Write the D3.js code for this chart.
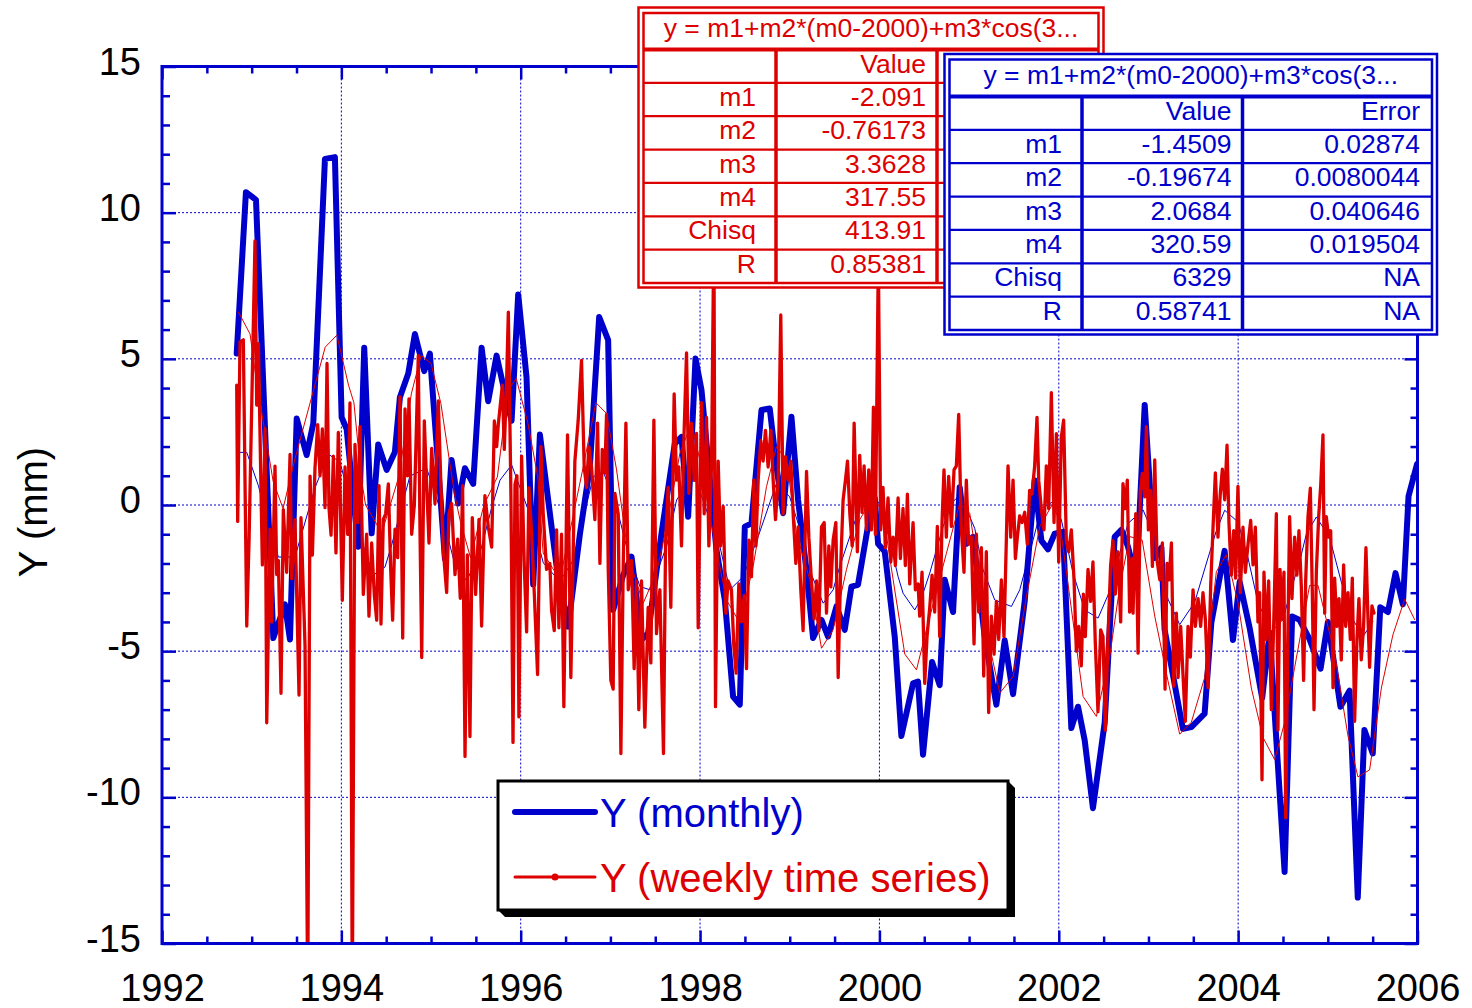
<!DOCTYPE html>
<html>
<head>
<meta charset="utf-8">
<script src="https://cdn.jsdelivr.net/npm/d3@7"></script>
<style>
  body { margin: 0; background: #fff; }
  svg { display: block; font-family: "Liberation Sans", Arial, sans-serif; }
</style>
</head>
<body>
<svg id="chart" width="1472" height="1008"></svg>
<script>
// Y displacement: monthly solution vs weekly time series, with the two harmonic fits.

const xTicks = [1992, 1994, 1996, 1998, 2000, 2002, 2004, 2006];
const yTicks = [-15, -10, -5, 0, 5, 10, 15];

// thick blue: monthly solution [year, mm]
const monthly = [
  [1992.833, 5.18], [1992.936, 10.70], [1993.048, 10.44], [1993.241, -4.55], [1993.371, -3.4],
  [1993.427, -4.6], [1993.502, 2.96], [1993.613, 1.71], [1993.687, 2.79], [1993.817, 11.84],
  [1993.928, 11.9], [1994.003, 3.0], [1994.059, 2.6], [1994.188, -1.43], [1994.255, 5.38],
  [1994.338, -0.97], [1994.411, 2.07], [1994.505, 1.2], [1994.597, 1.81], [1994.653, 3.69],
  [1994.746, 4.5], [1994.820, 5.85], [1994.924, 4.58], [1994.987, 5.18], [1995.155, -1.84],
  [1995.229, 1.54], [1995.303, 0.05], [1995.378, 1.26], [1995.470, 0.72], [1995.564, 5.38],
  [1995.637, 3.55], [1995.731, 5.11], [1995.804, 4.1], [1995.898, 2.88], [1995.972, 7.2],
  [1996.065, 4.37], [1996.139, -2.72], [1996.214, 2.41], [1996.400, -2.1], [1996.529, -4.16],
  [1996.660, -1.0], [1996.771, 1.3], [1996.875, 6.43], [1996.975, 5.64], [1997.031, -3.59],
  [1997.142, -2.4], [1997.236, -1.77], [1997.347, -4.61], [1997.421, -4.38], [1997.570, -0.97],
  [1997.718, 2.1], [1997.793, 2.33], [1997.867, -0.4], [1997.949, 5.01], [1998.016, 3.93],
  [1998.183, -1.54], [1998.276, -3.25], [1998.368, -6.55], [1998.443, -6.83], [1998.499, -0.74],
  [1998.573, -0.63], [1998.685, 3.25], [1998.777, 3.3], [1998.852, 1.31], [1998.926, -0.28],
  [1999.019, 3.02], [1999.093, 0.17], [1999.186, -2.22], [1999.260, -4.55], [1999.354, -3.93],
  [1999.427, -4.5], [1999.521, -3.47], [1999.613, -4.27], [1999.688, -2.79], [1999.761, -2.73],
  [1999.892, -0.37], [1999.948, 0.24], [1999.985, -1.33], [2000.059, -1.59], [2000.171, -4.51],
  [2000.245, -7.9], [2000.375, -6.1], [2000.430, -6.04], [2000.486, -8.54], [2000.587, -5.37],
  [2000.672, -6.16], [2000.728, -2.56], [2000.821, -3.66], [2000.895, 0.61], [2000.970, -1.33],
  [2001.044, -1.09], [2001.174, -4.51], [2001.304, -6.83], [2001.397, -4.63], [2001.490, -6.47],
  [2001.620, -3.29], [2001.731, 0.85], [2001.806, -1.22], [2001.880, -1.52], [2001.954, -0.98],
  [2002.047, -0.92], [2002.140, -7.63], [2002.214, -6.9], [2002.289, -8.05], [2002.381, -10.37],
  [2002.512, -7.44], [2002.623, -1.09], [2002.698, -0.85], [2002.771, -1.42], [2002.865, -2.56],
  [2002.958, 3.42], [2003.013, 0.76], [2003.069, -1.81], [2003.144, -1.46], [2003.180, -4.27],
  [2003.384, -7.66], [2003.478, -7.6], [2003.626, -7.14], [2003.701, -4.03], [2003.849, -1.57],
  [2003.942, -4.62], [2004.017, -2.63], [2004.128, -4.2], [2004.268, -6.6], [2004.351, -4.37],
  [2004.518, -12.55], [2004.602, -3.81], [2004.685, -3.93], [2004.797, -4.6], [2004.919, -5.6],
  [2005.001, -4.0], [2005.141, -6.9], [2005.242, -6.35], [2005.334, -13.43], [2005.408, -7.7],
  [2005.501, -8.5], [2005.585, -3.5], [2005.670, -3.66], [2005.755, -2.33], [2005.837, -3.4],
  [2005.900, 0.3], [2005.995, 1.4]
];

// thick red: weekly time series [year, mm]
const weekly = [
  [1992.833, 4.10], [1992.844, -0.56], [1992.870, 5.58], [1992.907, 5.65], [1992.945, -4.14],
  [1992.971, -1.17], [1993.037, 9.03], [1993.056, 3.42], [1993.075, 5.52], [1993.119, -2.05],
  [1993.149, 2.61], [1993.168, -7.45], [1993.205, -0.83], [1993.223, -4.0], [1993.260, 1.33],
  [1993.279, -2.38], [1993.298, -1.9], [1993.327, -6.44], [1993.353, -0.16], [1993.390, -2.3],
  [1993.428, 1.73], [1993.446, -2.52], [1993.483, -0.5], [1993.528, -6.5], [1993.550, -0.43],
  [1993.595, -4.82], [1993.625, -17], [1993.651, 0.99], [1993.677, -1.71], [1993.706, 1.26],
  [1993.736, 2.75], [1993.762, 1.0], [1993.788, 2.6], [1993.818, -0.09], [1993.840, 4.84],
  [1993.862, -0.09], [1993.885, -1.03], [1993.911, 1.67], [1993.940, -1.64], [1993.966, 2.48],
  [1993.985, 0.6], [1994.011, -3.26], [1994.041, 1.3], [1994.070, -1.0], [1994.096, 3.49],
  [1994.122, -17], [1994.152, 2.07], [1994.182, -0.6], [1994.208, 2.68], [1994.245, -3.06],
  [1994.282, -1.0], [1994.308, -3.8], [1994.338, -1.3], [1994.368, -3.1], [1994.394, -3.94],
  [1994.420, 0.66], [1994.442, -4.07], [1994.468, -0.49], [1994.494, -0.3], [1994.524, 0.72],
  [1994.550, -2.2], [1994.572, -3.94], [1994.598, -0.83], [1994.628, -1.8], [1994.654, 3.7],
  [1994.684, -4.55], [1994.710, 3.29], [1994.736, 1.0], [1994.754, 3.63], [1994.784, -1.0],
  [1994.814, 0.0], [1994.840, 3.0], [1994.858, 5.11], [1994.877, -0.9], [1994.896, -5.22],
  [1994.925, 2.88], [1994.951, 0.72], [1994.977, -1.3], [1995.007, 1.94], [1995.044, 0.05],
  [1995.081, 3.56], [1995.111, 0.59], [1995.137, -1.57], [1995.174, -2.99], [1995.200, -0.3],
  [1995.230, 0.05], [1995.267, -2.38], [1995.297, -1.17], [1995.326, -3.19], [1995.352, 0.66],
  [1995.379, -8.6], [1995.405, -1.71], [1995.434, -7.92], [1995.460, -0.43], [1995.497, -3.06],
  [1995.535, -0.49], [1995.564, -4.14], [1995.601, 0.32], [1995.639, -0.76], [1995.676, -1.44],
  [1995.706, 2.88], [1995.732, 2.0], [1995.750, 2.75], [1995.795, 4.1], [1995.817, 1.9],
  [1995.843, 4.3], [1995.862, 6.6], [1995.891, 0.3], [1995.914, -8.12], [1995.936, 0.7],
  [1995.958, 1.0], [1995.980, -7.25], [1996.010, 1.67], [1996.040, -2.11], [1996.066, -4.34],
  [1996.092, 0.59], [1996.122, -1.0], [1996.151, -3.0], [1996.188, -5.8], [1996.225, 2.0],
  [1996.251, -0.3], [1996.288, -2.2], [1996.325, -2.0], [1996.344, -3.6], [1996.374, -4.3],
  [1996.400, -0.85], [1996.426, -4.2], [1996.455, -1.0], [1996.481, -6.9], [1996.500, -2.6],
  [1996.522, 2.4], [1996.559, -5.9], [1996.604, 1.5], [1996.641, 2.9], [1996.678, 4.95],
  [1996.708, 1.3], [1996.734, 0.6], [1996.760, 2.0], [1996.790, 1.3], [1996.827, -0.5],
  [1996.857, 2.8], [1996.883, -2.0], [1996.909, 1.9], [1996.938, 1.1], [1996.957, 3.1],
  [1996.976, -2.2], [1997.005, -6.0], [1997.031, -6.3], [1997.050, 0.4], [1997.087, -0.3],
  [1997.117, -8.5], [1997.143, -2.1], [1997.173, 2.8], [1997.199, -2.9], [1997.236, -1.9],
  [1997.265, -5.6], [1997.291, -2.6], [1997.317, -7.0], [1997.347, -2.6], [1997.384, -7.6],
  [1997.421, -3.5], [1997.451, -5.4], [1997.485, 2.9], [1997.514, -4.4], [1997.552, -2.9],
  [1997.592, -8.5], [1997.615, -1.3], [1997.644, 0.6], [1997.674, -3.5], [1997.711, 3.8],
  [1997.737, 0.85], [1997.763, 1.3], [1997.793, -1.4], [1997.819, 2.2], [1997.849, 5.2],
  [1997.875, 0.4], [1997.904, 2.8], [1997.934, 0.85], [1997.960, 2.45], [1997.979, -4.2],
  [1998.016, 3.5], [1998.046, -0.3], [1998.072, 3.0], [1998.098, -1.4], [1998.128, 1.4],
  [1998.154, 9.5], [1998.172, -6.9], [1998.202, 1.5], [1998.228, -1.4], [1998.258, -0.05],
  [1998.287, -3.7], [1998.313, -2.6], [1998.350, -2.9], [1998.376, -4.8], [1998.402, -5.75],
  [1998.432, -2.7], [1998.462, -4.0], [1998.492, -3.1], [1998.518, -5.6], [1998.544, -1.2],
  [1998.573, -2.45], [1998.599, 0.85], [1998.622, -1.4], [1998.648, 0.85], [1998.677, 2.2],
  [1998.703, 1.5], [1998.729, 2.55], [1998.759, 1.3], [1998.789, 2.55], [1998.815, 0.85],
  [1998.841, -0.5], [1998.871, 0.85], [1998.900, 6.5], [1998.926, -0.3], [1998.952, 1.65],
  [1998.982, 0.85], [1999.012, 1.5], [1999.038, -0.3], [1999.068, -2.0], [1999.094, -0.75],
  [1999.123, -2.9], [1999.149, -4.3], [1999.187, 1.15], [1999.213, -1.1], [1999.242, -2.6],
  [1999.272, -3.9], [1999.298, -2.6], [1999.324, -4.3], [1999.354, -0.75], [1999.384, -0.6],
  [1999.410, -3.7], [1999.436, -1.4], [1999.458, -2.8], [1999.484, -1.2], [1999.514, -0.6],
  [1999.540, -5.9], [1999.569, -2.0], [1999.595, 0.17], [1999.621, 0.85], [1999.644, 1.5],
  [1999.670, -0.3], [1999.696, -1.4], [1999.718, 2.8], [1999.754, -1.6], [1999.780, 1.7],
  [1999.806, -0.25], [1999.829, 1.34], [1999.855, -0.85], [1999.881, 1.2], [1999.910, -0.85],
  [1999.933, 3.35], [1999.955, -1.0], [1999.988, 8.5], [2000.014, -0.85], [2000.040, 0.6],
  [2000.066, -1.46], [2000.096, 0.24], [2000.126, -1.95], [2000.152, -1.1], [2000.178, -2.07],
  [2000.208, 0.24], [2000.234, -1.83], [2000.263, -0.12], [2000.289, -2.07], [2000.312, 0.37],
  [2000.338, -2.7], [2000.375, -0.6], [2000.401, -2.9], [2000.431, -2.7], [2000.449, -3.8],
  [2000.475, -2.3], [2000.505, -6.1], [2000.531, -4.5], [2000.561, -3.5], [2000.587, -2.4],
  [2000.616, -3.66], [2000.646, -0.73], [2000.672, -4.5], [2000.698, -0.6], [2000.720, 1.2],
  [2000.746, -1.1], [2000.772, 0.98], [2000.802, -0.73], [2000.832, 1.2], [2000.858, 1.34],
  [2000.884, 3.1], [2000.914, -0.85], [2000.943, -2.3], [2000.969, 0.85], [2000.995, -1.34],
  [2001.025, -1.1], [2001.055, -4.75], [2001.081, -1.0], [2001.107, -3.66], [2001.137, -1.46],
  [2001.163, -5.85], [2001.192, -1.6], [2001.218, -7.1], [2001.248, -3.8], [2001.278, -5.1],
  [2001.304, -3.3], [2001.330, -4.6], [2001.360, -2.56], [2001.389, -4.5], [2001.415, -1.22],
  [2001.434, 1.34], [2001.464, -1.1], [2001.490, 0.85], [2001.516, -1.83], [2001.538, -1.1],
  [2001.564, -0.37], [2001.590, -0.6], [2001.620, -0.25], [2001.649, -1.34], [2001.675, 0.5],
  [2001.701, 0.37], [2001.731, 1.34], [2001.757, 3.0], [2001.776, 0.85], [2001.805, -0.12],
  [2001.835, -0.85], [2001.861, 1.34], [2001.887, -0.12], [2001.917, 3.84], [2001.947, -0.6],
  [2001.973, 2.44], [2001.999, -1.95], [2002.028, 2.3], [2002.054, 2.9], [2002.084, -1.22],
  [2002.110, -1.6], [2002.140, -0.85], [2002.170, -2.56], [2002.196, -5.0], [2002.222, -4.15],
  [2002.251, -5.5], [2002.274, -3.05], [2002.296, -4.5], [2002.326, -2.2], [2002.355, -3.3],
  [2002.381, -1.95], [2002.407, -4.7], [2002.437, -7.07], [2002.467, -4.27], [2002.493, -4.5],
  [2002.519, -7.7], [2002.549, -4.5], [2002.578, -2.07], [2002.604, -1.22], [2002.630, -3.05],
  [2002.660, -1.6], [2002.690, -4.0], [2002.716, 0.73], [2002.742, -0.12], [2002.764, 0.85],
  [2002.790, -3.66], [2002.816, -1.83], [2002.828, -3.7], [2002.858, -0.3], [2002.884, -5.07],
  [2002.910, 0.5], [2002.932, 1.08], [2002.958, 0.28], [2002.977, 2.68], [2002.999, -0.85],
  [2003.021, 0.5], [2003.044, -2.1], [2003.070, 1.54], [2003.096, -1.9], [2003.126, -2.56],
  [2003.155, -1.3], [2003.185, -6.3], [2003.207, -2.0], [2003.230, -2.56], [2003.256, -1.3],
  [2003.282, -6.2], [2003.311, -3.7], [2003.330, -5.9], [2003.359, -4.15], [2003.385, -5.8],
  [2003.411, -7.4], [2003.441, -4.15], [2003.467, -5.2], [2003.497, -2.9], [2003.523, -4.15],
  [2003.553, -3.2], [2003.582, -4.15], [2003.608, -3.0], [2003.634, -3.9], [2003.664, -6.25],
  [2003.694, -2.75], [2003.720, -0.76], [2003.746, 1.1], [2003.775, -1.1], [2003.801, 0.4],
  [2003.824, 1.23], [2003.850, 0.18], [2003.876, 2.05], [2003.898, -0.64], [2003.924, -2.4],
  [2003.950, -0.88], [2003.972, -2.5], [2003.998, 0.64], [2004.024, -3.0], [2004.054, -0.76],
  [2004.080, -2.3], [2004.110, -1.35], [2004.140, -0.53], [2004.166, -2.05], [2004.192, -0.76],
  [2004.221, -4.0], [2004.240, -3.0], [2004.266, -9.4], [2004.288, -2.3], [2004.314, -4.6],
  [2004.340, -2.6], [2004.370, -7.0], [2004.396, -4.15], [2004.426, -0.3], [2004.444, -7.7],
  [2004.467, -2.2], [2004.489, -3.9], [2004.511, -2.3], [2004.530, -10.7], [2004.556, -4.15],
  [2004.574, -0.4], [2004.600, -3.2], [2004.630, -1.1], [2004.656, -2.4], [2004.678, -0.88],
  [2004.704, -2.75], [2004.730, -6.0], [2004.753, -2.6], [2004.779, -0.4], [2004.805, 0.58],
  [2004.827, -3.0], [2004.846, -7.0], [2004.872, -2.3], [2004.898, -0.4], [2004.920, 0.64],
  [2004.946, 2.4], [2004.965, -3.7], [2004.983, -0.4], [2005.009, -1.1], [2005.032, -0.88],
  [2005.058, -6.25], [2005.076, -2.5], [2005.102, -4.15], [2005.125, -3.2], [2005.150, -5.3],
  [2005.176, -2.05], [2005.199, -4.15], [2005.225, -3.0], [2005.251, -4.6], [2005.273, -2.5],
  [2005.299, -7.4], [2005.325, -4.6], [2005.347, -3.2], [2005.373, -5.3], [2005.399, -4.15],
  [2005.425, -1.46], [2005.448, -3.9], [2005.466, -5.55], [2005.492, -3.45], [2005.515, -3.7]
];

// thin red: fit to the weekly series
const weeklyFit = [
  [1992.852, 6.6], [1992.982, 5.85], [1993.05, 4.3], [1993.24, 0.8], [1993.35, -0.12],
  [1993.48, 1.55], [1993.82, 5.4], [1993.95, 5.81], [1994.08, 4.1], [1994.14, 3.5],
  [1994.22, 0.97], [1994.27, 0.0], [1994.45, -0.96], [1994.64, 0.96], [1994.78, 3.8],
  [1994.89, 5.12], [1995.0, 4.84], [1995.11, 3.47], [1995.26, 0.4], [1995.33, -0.6],
  [1995.44, -1.8], [1995.59, 0.0], [1995.74, 0.96], [1995.86, 3.93], [1995.95, 4.33],
  [1996.08, 2.8], [1996.19, 0.97], [1996.25, -1.64], [1996.437, -2.56], [1996.697, 1.3],
  [1996.838, 3.5], [1996.957, 3.13], [1997.069, 1.2], [1997.2, -1.77], [1997.366, -3.36],
  [1997.515, -2.3], [1997.626, -0.74], [1997.775, 1.77], [1997.905, 2.8], [1998.0, 1.5],
  [1998.146, -0.97], [1998.295, -3.25], [1998.444, -4.04], [1998.592, -2.1], [1998.741, 0.63],
  [1998.852, 2.0], [1998.964, 1.54], [1999.075, -0.97], [1999.224, -2.56], [1999.354, -4.9],
  [1999.484, -4.27], [1999.633, -2.2], [1999.781, -0.5], [1999.93, 0.28], [2000.041, -0.28],
  [2000.153, -2.56], [2000.283, -5.1], [2000.413, -5.64], [2000.524, -4.27], [2000.747, -1.65],
  [2000.896, 0.06], [2001.007, -0.28], [2001.119, -2.56], [2001.23, -4.84], [2001.342, -6.43],
  [2001.49, -5.87], [2001.639, -3.13], [2001.788, -0.74], [2001.936, 0.06], [2002.011, -0.63],
  [2002.122, -3.13], [2002.271, -6.55], [2002.419, -7.23], [2002.568, -5.18], [2002.68, -2.79],
  [2002.791, -1.08], [2002.93, -1.2], [2003.07, -3.8], [2003.218, -6.02], [2003.348, -7.84],
  [2003.478, -7.43], [2003.627, -5.9], [2003.757, -2.28], [2003.868, -1.7], [2003.998, -3.33],
  [2004.147, -6.26], [2004.277, -7.95], [2004.407, -8.71], [2004.519, -7.43], [2004.63, -5.56],
  [2004.797, -2.75], [2004.89, -2.75], [2005.076, -5.09], [2005.225, -7.9], [2005.336, -9.3],
  [2005.466, -9.06], [2005.597, -6.26], [2005.726, -4.44], [2005.857, -3.22], [2005.968, -3.92]
];

// thin blue: fit to the monthly solution
const monthlyFit = [
  [1992.833, 1.8], [1992.945, 1.8], [1993.075, 0.66], [1993.149, -0.22], [1993.298, -1.78],
  [1993.483, -1.78], [1993.706, 0.59], [1993.855, 1.74], [1993.985, 1.47], [1994.059, 0.59],
  [1994.19, -0.9], [1994.301, -1.91], [1994.364, -2.38], [1994.487, -2.12], [1994.561, -1.37],
  [1994.635, -0.49], [1994.765, 0.99], [1994.951, 1.26], [1995.118, -0.29], [1995.193, -1.17],
  [1995.267, -2.05], [1995.397, -2.59], [1995.546, -1.64], [1995.676, -0.09], [1995.769, 0.85],
  [1995.899, 1.37], [1996.122, -0.49], [1996.252, -1.98], [1996.437, -2.62], [1996.586, -1.88],
  [1996.809, 0.97], [1996.92, 1.14], [1997.069, -0.06], [1997.18, -1.42], [1997.329, -2.79],
  [1997.44, -2.9], [1997.515, -2.33], [1997.626, -1.42], [1997.738, 0.17], [1997.886, 0.85],
  [1997.96, 0.8], [1998.109, -0.51], [1998.221, -1.42], [1998.332, -2.9], [1998.481, -2.45],
  [1998.648, -1.08], [1998.852, 0.74], [1998.999, 0.28], [1999.094, -0.63], [1999.205, -2.1],
  [1999.373, -3.36], [1999.484, -2.9], [1999.558, -2.1], [1999.707, -0.74], [1999.819, 0.28],
  [1999.93, 0.4], [2000.004, 0.0], [2000.1, -1.0], [2000.208, -2.45], [2000.264, -3.02],
  [2000.394, -3.59], [2000.468, -3.19], [2000.561, -2.33], [2000.71, -0.74], [2000.803, 0.06],
  [2000.896, 0.34], [2001.007, -0.4], [2001.063, -0.8], [2001.156, -2.22], [2001.286, -3.25],
  [2001.472, -3.47], [2001.565, -2.9], [2001.713, -1.2], [2001.806, -0.11], [2001.936, 0.11],
  [2002.029, -0.51], [2002.159, -2.33], [2002.289, -3.59], [2002.438, -3.87], [2002.549, -3.08],
  [2002.68, -1.65], [2002.772, -0.63], [2002.94, -0.17], [2003.069, -1.11], [2003.218, -3.22],
  [2003.348, -4.09], [2003.515, -3.33], [2003.664, -1.81], [2003.757, -0.88], [2003.85, -0.18],
  [2003.998, -0.58], [2004.11, -1.81], [2004.221, -3.33], [2004.37, -4.33], [2004.5, -3.92],
  [2004.593, -2.87], [2004.686, -1.93], [2004.76, -1.0], [2004.872, -0.41], [2005.02, -1.11],
  [2005.15, -2.63], [2005.28, -3.92], [2005.392, -4.5], [2005.503, -3.98]
];

// fit tables
const fitTitle = 'y = m1+m2*(m0-2000)+m3*cos(3...';
const paramNames = ['m1', 'm2', 'm3', 'm4', 'Chisq', 'R'];
const weeklyFitValues = ['-2.091', '-0.76173', '3.3628', '317.55', '413.91', '0.85381'];
const monthlyFitValues = ['-1.4509', '-0.19674', '2.0684', '320.59', '6329', '0.58741'];
const monthlyFitErrors = ['0.02874', '0.0080044', '0.040646', '0.019504', 'NA', 'NA'];

const BLUE = '#0000cc';
const RED = '#dd0000';

const plot = { left: 162, right: 1417.5, top: 66.5, bottom: 943.5 };
const x = d3.scaleLinear().domain([1992, 2006]).range([plot.left, plot.right]);
const y = d3.scaleLinear().domain([-15, 15]).range([plot.bottom, plot.top]);

const svg = d3.select('#chart');

svg.append('defs').append('clipPath').attr('id', 'plot-clip')
    .append('rect')
    .attr('x', plot.left).attr('y', plot.top)
    .attr('width', plot.right - plot.left).attr('height', plot.bottom - plot.top);

// dotted grid at the major ticks
const grid = svg.append('g')
    .attr('stroke', BLUE).attr('stroke-width', 1).attr('stroke-dasharray', '2,2');
grid.selectAll('.gx').data(xTicks.slice(1, -1)).join('line')
    .attr('x1', d => x(d)).attr('x2', d => x(d))
    .attr('y1', plot.top).attr('y2', plot.bottom);
grid.selectAll('.gy').data(yTicks.slice(1, -1)).join('line')
    .attr('x1', plot.left).attr('x2', plot.right)
    .attr('y1', d => y(d)).attr('y2', d => y(d));

const line = d3.line().x(d => x(d[0])).y(d => y(d[1]));
const data = svg.append('g').attr('clip-path', 'url(#plot-clip)')
    .attr('fill', 'none').attr('stroke-linejoin', 'round').attr('stroke-linecap', 'round');

data.append('path').attr('d', line(monthly)).attr('stroke', BLUE).attr('stroke-width', 6);
data.append('path').attr('d', line(monthlyFit)).attr('stroke', BLUE).attr('stroke-width', 1);
data.append('path').attr('d', line(weeklyFit)).attr('stroke', RED).attr('stroke-width', 1);
data.append('path').attr('d', line(weekly)).attr('stroke', RED).attr('stroke-width', 3.3);

// frame
svg.append('rect')
    .attr('x', plot.left).attr('y', plot.top)
    .attr('width', plot.right - plot.left).attr('height', plot.bottom - plot.top)
    .attr('fill', 'none').attr('stroke', BLUE).attr('stroke-width', 3);

// ticks point inwards on all four sides
const xMinor = d3.range(1992, 2006.01, 0.5).filter(v => v % 2 !== 0);
const yMinor = d3.range(-15, 15.01, 1).filter(v => v % 5 !== 0);
const plain = d => String(d);   // hyphen minus, as in the original

function styleAxis(g) {
    g.select('.domain').remove();
    g.selectAll('.tick line').attr('stroke', BLUE).attr('stroke-width', 2.5);
    g.selectAll('text').attr('fill', '#000');
    g.attr('font-family', null).attr('font-size', 38);
}

svg.append('g').attr('transform', `translate(0,${plot.bottom})`)
    .call(d3.axisBottom(x).tickValues(xMinor).tickSize(-7).tickFormat('')).call(styleAxis);
svg.append('g').attr('transform', `translate(0,${plot.bottom})`)
    .call(d3.axisBottom(x).tickValues(xTicks).tickSize(-13).tickPadding(31).tickFormat(plain))
    .call(styleAxis);
svg.append('g').attr('transform', `translate(0,${plot.top})`)
    .call(d3.axisTop(x).tickValues(xMinor).tickSize(-7).tickFormat('')).call(styleAxis);
svg.append('g').attr('transform', `translate(0,${plot.top})`)
    .call(d3.axisTop(x).tickValues(xTicks).tickSize(-13).tickFormat('')).call(styleAxis);

svg.append('g').attr('transform', `translate(${plot.left},0)`)
    .call(d3.axisLeft(y).tickValues(yMinor).tickSize(-8).tickFormat('')).call(styleAxis);
svg.append('g').attr('transform', `translate(${plot.left},0)`)
    .call(d3.axisLeft(y).tickValues(yTicks).tickSize(-14).tickPadding(21).tickFormat(plain))
    .call(styleAxis)
    .call(g => g.selectAll('text').attr('dy', '0.2em'));
svg.append('g').attr('transform', `translate(${plot.right},0)`)
    .call(d3.axisRight(y).tickValues(yMinor).tickSize(-7).tickFormat('')).call(styleAxis);
svg.append('g').attr('transform', `translate(${plot.right},0)`)
    .call(d3.axisRight(y).tickValues(yTicks).tickSize(-13).tickFormat('')).call(styleAxis);

svg.append('text')
    .attr('transform', 'translate(47,512) rotate(-90)')
    .attr('text-anchor', 'middle').attr('font-size', 40)
    .text('Y (mm)');

// legend with drop shadow
const legend = svg.append('g');
legend.append('polygon')
    .attr('points', '1008,781 1015,788 1015,917 505,917 498,910')
    .attr('fill', '#000');
legend.append('rect')
    .attr('x', 498).attr('y', 781).attr('width', 510).attr('height', 129)
    .attr('fill', '#fff').attr('stroke', '#000').attr('stroke-width', 3);
legend.append('line').attr('x1', 515).attr('x2', 595).attr('y1', 812).attr('y2', 812)
    .attr('stroke', BLUE).attr('stroke-width', 6).attr('stroke-linecap', 'round');
legend.append('text').attr('x', 600).attr('y', 827).attr('font-size', 40)
    .attr('fill', BLUE).text('Y (monthly)');
legend.append('line').attr('x1', 515).attr('x2', 595).attr('y1', 877).attr('y2', 877)
    .attr('stroke', RED).attr('stroke-width', 3).attr('stroke-linecap', 'round');
legend.append('circle').attr('cx', 555).attr('cy', 877).attr('r', 3.5).attr('fill', RED);
legend.append('text').attr('x', 600).attr('y', 892).attr('font-size', 40)
    .attr('fill', RED).text('Y (weekly time series)');

// fit parameter tables
function drawTable(t) {
    const g = svg.append('g').attr('fill', 'none').attr('stroke', t.color);
    const inner = { x0: t.x0 + 5, y0: t.y0 + 5.5, x1: t.x1 - 5, y1: t.y1 - 4.5 };
    const rowH = (inner.y1 - t.headBottom) / 7;

    g.append('rect').attr('x', t.x0).attr('y', t.y0)
        .attr('width', t.x1 - t.x0).attr('height', t.y1 - t.y0)
        .attr('fill', '#fff').attr('stroke-width', 2.5);
    g.append('rect').attr('x', inner.x0).attr('y', inner.y0)
        .attr('width', inner.x1 - inner.x0).attr('height', inner.y1 - inner.y0)
        .attr('stroke-width', 2.5);
    g.append('line').attr('x1', inner.x0).attr('x2', inner.x1)
        .attr('y1', t.headBottom).attr('y2', t.headBottom).attr('stroke-width', 4);
    g.selectAll('.row').data(d3.range(1, 7)).join('line')
        .attr('x1', inner.x0).attr('x2', inner.x1)
        .attr('y1', i => t.headBottom + i * rowH).attr('y2', i => t.headBottom + i * rowH)
        .attr('stroke-width', 2.3);
    g.selectAll('.col').data(t.cols.slice(1, -1)).join('line')
        .attr('x1', d => d).attr('x2', d => d)
        .attr('y1', t.headBottom).attr('y2', inner.y1)
        .attr('stroke-width', 3.5);

    const txt = svg.append('g').attr('fill', t.color).attr('font-size', 26.5);
    txt.append('text')
        .attr('x', (inner.x0 + inner.x1) / 2).attr('y', (inner.y0 + t.headBottom) / 2 + 6)
        .attr('text-anchor', 'middle').text(fitTitle);

    // the weekly table's Error column sits under the monthly table, so it has no cells
    const columns = [['', ...paramNames], ['Value', ...t.values]];
    if (t.errors) columns.push(['Error', ...t.errors]);
    const pad = [20, 11, 12];
    columns.forEach((col, c) => {
        txt.selectAll(null).data(col).join('text')
            .attr('x', t.cols[c + 1] - pad[c])
            .attr('y', (d, i) => t.headBottom + (i + 0.5) * rowH + 6.5)
            .attr('text-anchor', 'end')
            .text(d => d);
    });
}

drawTable({
    color: RED, x0: 638.5, y0: 7.5, x1: 1103.5, y1: 287.5, headBottom: 49.5,
    cols: [643.5, 776, 937, 1098.5],
    values: weeklyFitValues, errors: null
});
drawTable({
    color: BLUE, x0: 944.5, y0: 54, x1: 1437, y1: 334.5, headBottom: 96.5,
    cols: [949.5, 1082, 1242.5, 1432],
    values: monthlyFitValues, errors: monthlyFitErrors
});
</script>
</body>
</html>
